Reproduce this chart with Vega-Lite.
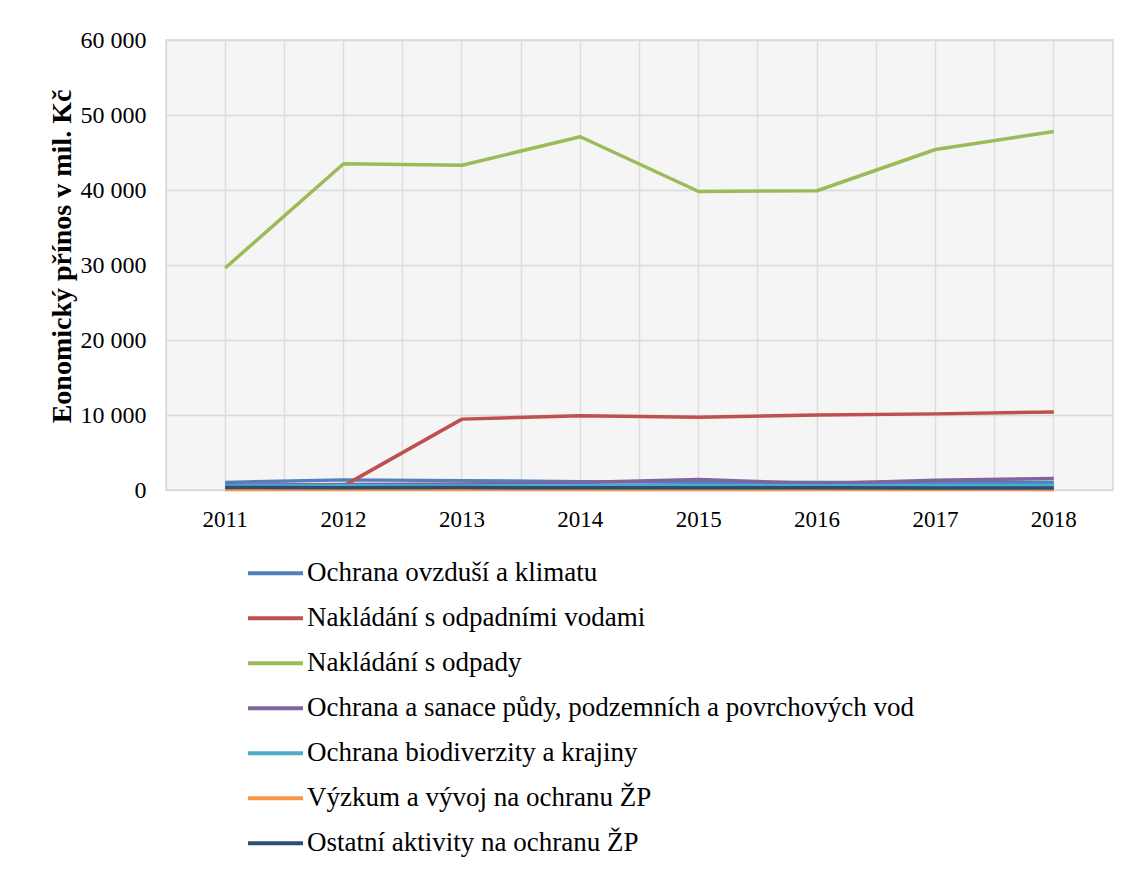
{
  "$schema": "https://vega.github.io/schema/vega-lite/v6.json",
  "width": 947,
  "height": 450,
  "autosize": {"type": "none"},
  "padding": {"left": 166, "top": 40, "right": 19, "bottom": 380},
  "background": "white",
  "config": {
    "view": {"stroke": "#d9d9d9", "strokeWidth": 1.5, "fill": "#f5f5f5"},
    "font": "Liberation Serif"
  },
  "data": {
    "values": [
      {"year": "2011", "series": "Ochrana ovzduší a klimatu", "value": 1000},
      {"year": "2012", "series": "Ochrana ovzduší a klimatu", "value": 1350},
      {"year": "2013", "series": "Ochrana ovzduší a klimatu", "value": 1250},
      {"year": "2014", "series": "Ochrana ovzduší a klimatu", "value": 1100},
      {"year": "2015", "series": "Ochrana ovzduší a klimatu", "value": 1050},
      {"year": "2016", "series": "Ochrana ovzduší a klimatu", "value": 1000},
      {"year": "2017", "series": "Ochrana ovzduší a klimatu", "value": 1000},
      {"year": "2018", "series": "Ochrana ovzduší a klimatu", "value": 1050},
      {"year": "2011", "series": "Nakládání s odpadními vodami", "value": 400},
      {"year": "2012", "series": "Nakládání s odpadními vodami", "value": 550},
      {"year": "2013", "series": "Nakládání s odpadními vodami", "value": 9450},
      {"year": "2014", "series": "Nakládání s odpadními vodami", "value": 9900},
      {"year": "2015", "series": "Nakládání s odpadními vodami", "value": 9700},
      {"year": "2016", "series": "Nakládání s odpadními vodami", "value": 10000},
      {"year": "2017", "series": "Nakládání s odpadními vodami", "value": 10150},
      {"year": "2018", "series": "Nakládání s odpadními vodami", "value": 10400},
      {"year": "2011", "series": "Nakládání s odpady", "value": 29600},
      {"year": "2012", "series": "Nakládání s odpady", "value": 43500},
      {"year": "2013", "series": "Nakládání s odpady", "value": 43300},
      {"year": "2014", "series": "Nakládání s odpady", "value": 47100},
      {"year": "2015", "series": "Nakládání s odpady", "value": 39800},
      {"year": "2016", "series": "Nakládání s odpady", "value": 39900},
      {"year": "2017", "series": "Nakládání s odpady", "value": 45400},
      {"year": "2018", "series": "Nakládání s odpady", "value": 47800},
      {"year": "2011", "series": "Ochrana a sanace půdy, podzemních a povrchových vod", "value": 650},
      {"year": "2012", "series": "Ochrana a sanace půdy, podzemních a povrchových vod", "value": 750},
      {"year": "2013", "series": "Ochrana a sanace půdy, podzemních a povrchových vod", "value": 800},
      {"year": "2014", "series": "Ochrana a sanace půdy, podzemních a povrchových vod", "value": 1000},
      {"year": "2015", "series": "Ochrana a sanace půdy, podzemních a povrchových vod", "value": 1400},
      {"year": "2016", "series": "Ochrana a sanace půdy, podzemních a povrchových vod", "value": 850},
      {"year": "2017", "series": "Ochrana a sanace půdy, podzemních a povrchových vod", "value": 1300},
      {"year": "2018", "series": "Ochrana a sanace půdy, podzemních a povrchových vod", "value": 1550},
      {"year": "2011", "series": "Ochrana biodiverzity a krajiny", "value": 520},
      {"year": "2012", "series": "Ochrana biodiverzity a krajiny", "value": 560},
      {"year": "2013", "series": "Ochrana biodiverzity a krajiny", "value": 540},
      {"year": "2014", "series": "Ochrana biodiverzity a krajiny", "value": 580},
      {"year": "2015", "series": "Ochrana biodiverzity a krajiny", "value": 600},
      {"year": "2016", "series": "Ochrana biodiverzity a krajiny", "value": 570},
      {"year": "2017", "series": "Ochrana biodiverzity a krajiny", "value": 590},
      {"year": "2018", "series": "Ochrana biodiverzity a krajiny", "value": 620},
      {"year": "2011", "series": "Výzkum a vývoj na ochranu ŽP", "value": 60},
      {"year": "2012", "series": "Výzkum a vývoj na ochranu ŽP", "value": 70},
      {"year": "2013", "series": "Výzkum a vývoj na ochranu ŽP", "value": 60},
      {"year": "2014", "series": "Výzkum a vývoj na ochranu ŽP", "value": 70},
      {"year": "2015", "series": "Výzkum a vývoj na ochranu ŽP", "value": 80},
      {"year": "2016", "series": "Výzkum a vývoj na ochranu ŽP", "value": 70},
      {"year": "2017", "series": "Výzkum a vývoj na ochranu ŽP", "value": 60},
      {"year": "2018", "series": "Výzkum a vývoj na ochranu ŽP", "value": 50},
      {"year": "2011", "series": "Ostatní aktivity na ochranu ŽP", "value": 330},
      {"year": "2012", "series": "Ostatní aktivity na ochranu ŽP", "value": 300},
      {"year": "2013", "series": "Ostatní aktivity na ochranu ŽP", "value": 320},
      {"year": "2014", "series": "Ostatní aktivity na ochranu ŽP", "value": 310},
      {"year": "2015", "series": "Ostatní aktivity na ochranu ŽP", "value": 300},
      {"year": "2016", "series": "Ostatní aktivity na ochranu ŽP", "value": 290},
      {"year": "2017", "series": "Ostatní aktivity na ochranu ŽP", "value": 280},
      {"year": "2018", "series": "Ostatní aktivity na ochranu ŽP", "value": 260}
    ]
  },
  "encoding": {
    "x": {
      "field": "year",
      "type": "ordinal",
      "scale": {"type": "band", "paddingInner": 0, "paddingOuter": 0}
    },
    "y": {
      "field": "value",
      "type": "quantitative",
      "scale": {"domain": [0, 60000], "nice": false},
      "axis": {
        "values": [0, 10000, 20000, 30000, 40000, 50000, 60000],
        "labelExpr": "replace(format(datum.value, ','), ',', ' ')",
        "title": "Eonomický přínos v mil. Kč",
        "titleFont": "Liberation Serif",
        "titleFontSize": 28,
        "titleFontWeight": "bold",
        "titleColor": "black",
        "titleX": -104,
        "titleY": 216,
        "titleAngle": 270,
        "titleBaseline": "middle",
        "titleAlign": "center",
        "labelFont": "Liberation Serif",
        "labelFontSize": 24,
        "labelColor": "black",
        "labelPadding": 20,
        "ticks": false,
        "tickSize": 0,
        "domain": false,
        "grid": true,
        "gridColor": "#d9d9d9",
        "gridWidth": 1.5
      }
    }
  },
  "layer": [
    {
      "mark": {"type": "line", "strokeWidth": 3.5, "strokeJoin": "round"},
      "encoding": {
        "x": {
          "field": "year",
          "type": "ordinal",
          "axis": {
            "title": null,
            "labelAngle": 0,
            "labelFont": "Liberation Serif",
            "labelFontSize": 23,
            "labelColor": "black",
            "labelPadding": 18,
            "labelBaseline": "top",
            "ticks": false,
            "tickSize": 0,
            "domain": false,
            "grid": true,
            "gridColor": "#dedede",
            "gridWidth": 1.5
          }
        },
        "color": {
          "field": "series",
          "type": "nominal",
          "scale": {
            "domain": [
              "Ochrana ovzduší a klimatu",
              "Nakládání s odpadními vodami",
              "Nakládání s odpady",
              "Ochrana a sanace půdy, podzemních a povrchových vod",
              "Ochrana biodiverzity a krajiny",
              "Výzkum a vývoj na ochranu ŽP",
              "Ostatní aktivity na ochranu ŽP"
            ],
            "range": ["#4F81BD", "#C0504D", "#9BBB59", "#8064A2", "#4BACC6", "#F79646", "#2C4D75"]
          },
          "legend": {
            "title": null,
            "orient": "none",
            "legendX": 80,
            "legendY": 511,
            "direction": "vertical",
            "padding": 0,
            "symbolType": "stroke",
            "symbolSize": 3025,
            "symbolStrokeWidth": 4,
            "labelFont": "Liberation Serif",
            "labelFontSize": 27,
            "labelColor": "black",
            "labelOffset": 2,
            "labelLimit": 900,
            "clipHeight": 44.5,
            "rowPadding": 0
          }
        }
      }
    },
    {
      "mark": {"type": "point", "opacity": 0},
      "encoding": {
        "x": {
          "field": "year",
          "type": "ordinal",
          "axis": {
            "orient": "top",
            "title": null,
            "labels": false,
            "ticks": false,
            "domain": false,
            "grid": true,
            "bandPosition": 0,
            "gridColor": "#dedede",
            "gridWidth": 1.5
          }
        }
      }
    }
  ],
  "resolve": {"axis": {"x": "independent"}}
}
